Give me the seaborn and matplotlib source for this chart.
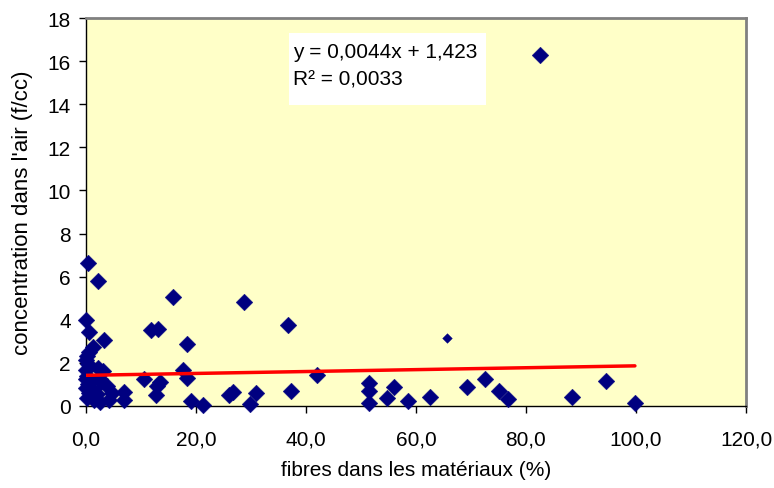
import matplotlib
matplotlib.use("Agg")
import matplotlib.pyplot as plt
from matplotlib.patches import Rectangle
import seaborn as sns
import pandas as pd

# ---- data ----
fibres = [0.4, 2.2, 0.0, 0.5, 3.3, 1.2, 0.5, 0.1, 0.0, 0.3, 0.0, 2.2, 3.1, 0.2,
          0.0, 0.8, 2.6, 0.3, 0.0, 1.0, 3.8, 2.8, 0.5, 1.3, 0.2, 2.0, 4.7, 4.2,
          2.5, 1.5, 6.9, 6.9, 10.5, 11.9, 13.0, 13.4, 12.9, 12.7, 15.8, 17.7,
          18.4, 18.4, 19.0, 21.2, 26.0, 26.8, 28.7, 29.9, 30.9, 36.7, 37.3,
          42.0, 51.4, 51.4, 51.4, 54.8, 56.0, 58.5, 62.5, 69.3, 72.5, 75.1,
          76.8, 82.6, 88.3, 94.6, 99.8]
concentration = [6.62, 5.80, 3.97, 3.42, 3.07, 2.75, 2.50, 2.30, 2.15, 1.95, 1.65,
                 1.75, 1.62, 1.40, 1.25, 1.15, 1.25, 1.00, 0.85, 0.80, 0.95, 1.10,
                 0.60, 0.45, 0.35, 0.55, 0.59, 0.30, 0.17, 0.30, 0.64, 0.30, 1.23,
                 3.52, 3.58, 1.10, 0.93, 0.50, 5.07, 1.66, 1.30, 2.88, 0.25, 0.05,
                 0.51, 0.64, 4.81, 0.07, 0.62, 3.78, 0.71, 1.44, 1.08, 0.71, 0.15,
                 0.36, 0.87, 0.25, 0.42, 0.88, 1.24, 0.71, 0.32, 16.28, 0.42,
                 1.14, 0.15]
small_fibres = [65.7]
small_concentration = [3.16]

slope = 0.0044
intercept = 1.423
r_squared = "0,0033"

x_ticks = [0, 20, 40, 60, 80, 100, 120]
x_tick_labels = ["0,0", "20,0", "40,0", "60,0", "80,0", "100,0", "120,0"]
y_ticks = [0, 2, 4, 6, 8, 10, 12, 14, 16, 18]
y_tick_labels = ["0", "2", "4", "6", "8", "10", "12", "14", "16", "18"]

x_label = "fibres dans les matériaux (%)"
y_label = "concentration dans l'air (f/cc)"

# ---- styling ----
sns.set_theme(style="white")
plt.rcParams['font.family'] = ['Liberation Sans', 'DejaVu Sans']
plt.rcParams['text.color'] = 'black'
plt.rcParams['axes.labelcolor'] = 'black'
plt.rcParams['xtick.color'] = 'black'
plt.rcParams['ytick.color'] = 'black'

W, H = 774, 489
fig = plt.figure(figsize=(W / 100, H / 100), dpi=100)
ax = fig.add_axes([86 / W, 1 - 407 / H, 660 / W, 388 / H])
ax.set_facecolor('#FFFFC8')

df = pd.DataFrame({"fibres": fibres, "concentration": concentration})
sns.scatterplot(data=df, x="fibres", y="concentration", marker='D', s=72,
                color='#000080', edgecolor='#000080', linewidth=0.3, ax=ax,
                zorder=3, clip_on=False)
sns.scatterplot(x=small_fibres, y=small_concentration, marker='D', s=24,
                color='#000080', edgecolor='#000080', linewidth=0.3, ax=ax,
                zorder=3)

trend_x = [min(fibres), max(fibres)]
trend_y = [intercept + slope * v for v in trend_x]
sns.lineplot(x=trend_x, y=trend_y, color='#FF0000', linewidth=2.5, ax=ax,
             zorder=4)

ax.set_xlim(0, 120)
ax.set_ylim(0, 18)
ax.set_xticks(x_ticks)
ax.set_xticklabels(x_tick_labels)
ax.set_yticks(y_ticks)
ax.set_yticklabels(y_tick_labels)
ax.tick_params(axis='both', which='major', labelsize=15, length=5, width=1,
               color='black', labelcolor='black', direction='out',
               bottom=True, left=True)
ax.tick_params(axis='x', pad=12)
ax.tick_params(axis='y', pad=6)
ax.set_xlabel(x_label, fontsize=15, labelpad=8, color='black')
ax.set_ylabel(y_label, fontsize=16, labelpad=10, color='black')

for side in ['top', 'right']:
    ax.spines[side].set_color('#808080')
    ax.spines[side].set_linewidth(2)
for side in ['left', 'bottom']:
    ax.spines[side].set_color('black')
    ax.spines[side].set_linewidth(1)

# equation box
box = Rectangle((289 / W, 1 - 106 / H), (486 - 289) / W, (106 - 34) / H,
                transform=fig.transFigure, facecolor='white', edgecolor='none',
                zorder=5)
fig.patches.append(box)
fig.text(293 / W, 1 - 53 / H,
         "y = {}x + {}".format(str(slope).replace('.', ','),
                                str(intercept).replace('.', ',')),
         fontsize=15, va='center', ha='left', zorder=6, color='black')
fig.text(293 / W, 1 - 80 / H, "R² = " + r_squared,
         fontsize=15, va='center', ha='left', zorder=6, color='black')

fig.savefig("out.png", dpi=100)
